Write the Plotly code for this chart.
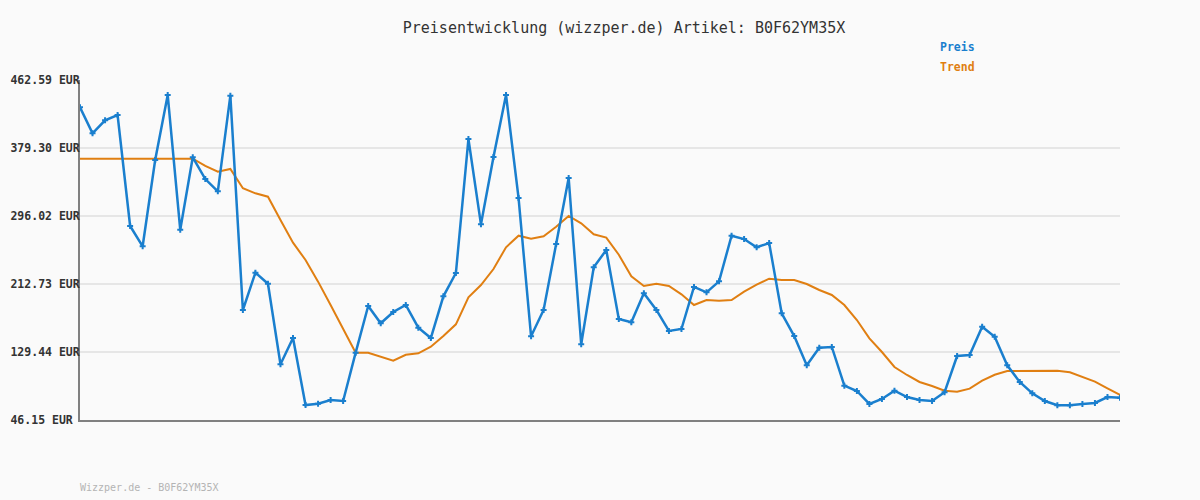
import plotly.graph_objects as go

title_text = "Preisentwicklung (wizzper.de) Artikel: B0F62YM35X"
footer_text = "Wizzper.de - B0F62YM35X"

tick_values = [46.15, 129.44, 212.73, 296.02, 379.30, 462.59]
tick_labels = ["46.15 EUR\u00a0", "129.44 EUR", "212.73 EUR", "296.02 EUR", "379.30 EUR", "462.59 EUR"]

preis = [
    429.2, 397.3, 413.2, 419.7, 283.8, 258.9, 364.6, 444.2, 279.2, 367.9,
    341.3, 326.2, 443.4, 180.9, 226.6, 213.1, 114.4, 146.6, 64.5, 66.1,
    70.6, 69.4, 128.6, 185.8, 164.6, 178.4, 187.0, 159.2, 146.6, 197.6,
    226.2, 390.3, 285.8, 368.3, 444.2, 318.1, 148.7, 180.9, 261.7, 342.6,
    138.9, 233.2, 254.4, 169.9, 165.8, 201.3, 180.9, 155.2, 157.6, 209.1,
    202.5, 216.0, 271.9, 267.8, 257.7, 262.9, 176.8, 149.0, 113.1, 134.7,
    135.6, 88.2, 81.7, 65.8, 71.9, 82.0, 74.3, 70.6, 69.4, 80.1,
    124.5, 125.8, 160.4, 148.2, 113.1, 92.7, 78.8, 69.4, 64.2, 64.2,
    65.8, 67.0, 74.3, 73.5,
]

trend = [
    366.2, 366.2, 366.2, 366.2, 366.2, 366.2, 366.2, 366.2, 366.2, 366.2,
    357.3, 350.3, 353.6, 330.0, 323.8, 319.7, 291.1, 263.3, 242.1, 215.6,
    187.0, 158.4, 128.6, 128.6, 123.7, 118.8, 126.1, 127.8, 135.9, 149.0,
    163.3, 196.4, 211.5, 231.1, 257.7, 271.9, 268.2, 271.1, 282.9, 296.0,
    287.1, 273.6, 269.5, 248.6, 222.1, 210.3, 213.1, 210.3, 200.1, 187.0,
    193.1, 192.3, 193.1, 203.3, 211.9, 219.2, 217.6, 217.6, 212.7, 205.4,
    199.3, 187.0, 168.6, 146.2, 129.4, 111.1, 101.3, 92.7, 87.8, 82.0,
    80.8, 84.5, 94.3, 101.6, 106.2, 106.5, 106.5, 106.5, 106.5, 104.6,
    99.2, 93.1, 85.0, 76.8,
]

x_idx = list(range(len(preis)))

BLUE = "#1a7fce"
ORANGE = "#e07f12"
MONO = "DejaVu Sans Mono"

fig = go.Figure()
fig.add_trace(go.Scatter(
    x=x_idx, y=trend, mode="lines", name="Trend",
    line=dict(color=ORANGE, width=2), showlegend=False, hoverinfo="skip",
))
fig.add_trace(go.Scatter(
    x=x_idx, y=preis, mode="lines+markers", name="Preis",
    line=dict(color=BLUE, width=2.5),
    marker=dict(symbol="cross", size=5, color=BLUE),
    showlegend=False,
))

fig.update_layout(
    width=1200, height=500,
    paper_bgcolor="#fafafa", plot_bgcolor="#fafafa",
    margin=dict(l=80, r=80, t=80, b=80),
    title=dict(text=title_text, x=0.52, xanchor="center", y=1 - 28 / 500, yanchor="middle",
               font=dict(family=MONO, size=15, color="#333333")),
    xaxis=dict(range=[0, len(preis) - 1], showgrid=False, zeroline=False, automargin=False,
               showticklabels=False, ticks="", showline=True, linecolor="#808080", linewidth=2),
    yaxis=dict(range=[tick_values[0], tick_values[-1]], tickvals=tick_values, ticktext=tick_labels,
               showgrid=True, gridcolor="#e6e6e6", gridwidth=2, zeroline=False, automargin=False,
               showline=True, linecolor="#808080", linewidth=2, ticks="",
               ticklabelstandoff=-4,
               tickfont=dict(family=MONO, size=11.5, color="#333333", weight="bold")),
    font=dict(family=MONO),
    annotations=[
        dict(text="Preis", xref="paper", yref="paper", x=(938 - 80) / 1040, y=(420 - 47) / 340,
             xanchor="left", yanchor="middle", showarrow=False,
             font=dict(family=MONO, size=11.5, color=BLUE, weight="bold")),
        dict(text="Trend", xref="paper", yref="paper", x=(938 - 80) / 1040, y=(420 - 67) / 340,
             xanchor="left", yanchor="middle", showarrow=False,
             font=dict(family=MONO, size=11.5, color=ORANGE, weight="bold")),
        dict(text=footer_text, xref="paper", yref="paper", x=-2 / 1040, y=(420 - 487) / 340,
             xanchor="left", yanchor="middle", showarrow=False,
             font=dict(family=MONO, size=10, color="#b4b4b4")),
    ],
)

fig.write_html("out.html", config={"displayModeBar": False},
               post_script="document.body.style.margin='0px';")
